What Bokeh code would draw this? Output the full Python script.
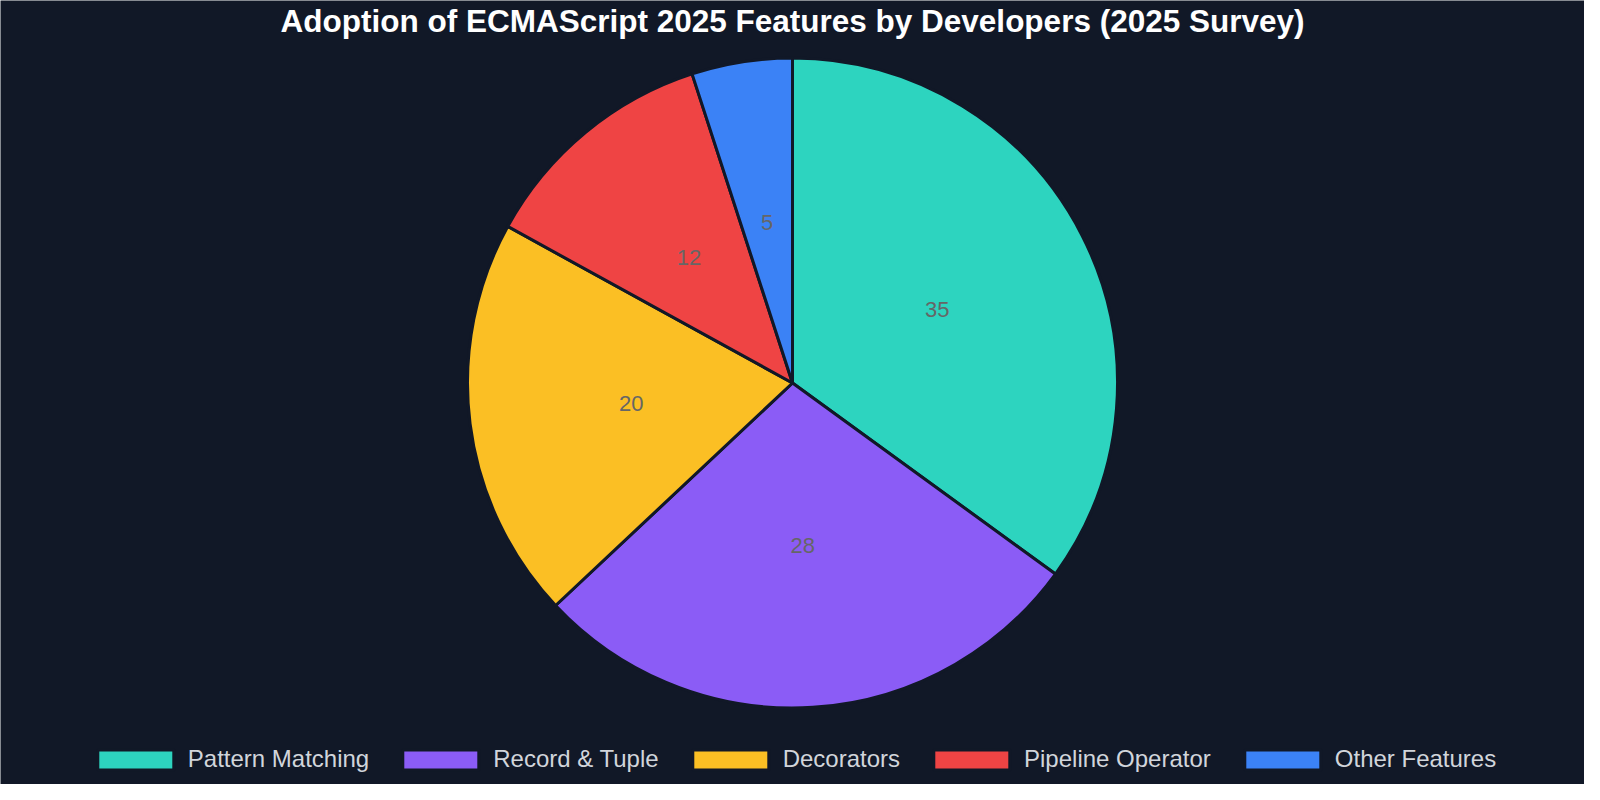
import numpy as np
from bokeh.plotting import figure
from bokeh.models import Range1d, Label, Legend, LegendItem, ColumnDataSource
from bokeh.embed import file_html
from bokeh.resources import INLINE
from bokeh.core.properties import value

# ---- data ----
categories = ["Pattern Matching", "Record & Tuple", "Decorators", "Pipeline Operator", "Other Features"]
shares = [35, 28, 20, 12, 5]
colors = ["#2dd4bf", "#8b5cf6", "#fbbf24", "#ef4444", "#3b82f6"]
title_text = "Adoption of ECMAScript 2025 Features by Developers (2025 Survey)"

W, H = 1584, 784
CX, CY, R = 792, 401.5, 325
FONT = "Liberation Sans"

vals = np.array(shares, dtype=float)
frac = vals / vals.sum()
cum = np.concatenate([[0], np.cumsum(frac)])
start = np.pi / 2 - 2 * np.pi * cum[:-1]
end = np.pi / 2 - 2 * np.pi * cum[1:]
mid = (start + end) / 2

src = ColumnDataSource(dict(
    cat=categories, val=shares, color=colors,
    start=start, end=end,
    lx=CX + 0.5 * R * np.cos(mid), ly=CY + 0.5 * R * np.sin(mid),
    lab=[str(v) for v in shares],
))

p = figure(width=W, height=H, output_backend="svg", toolbar_location=None,
           x_range=Range1d(0, W), y_range=Range1d(0, H),
           min_border=0, background_fill_color="#111827",
           border_fill_color="#111827", outline_line_color=None)
p.axis.visible = False
p.grid.visible = False

w = p.wedge(x=CX, y=CY, radius=R, start_angle="start", end_angle="end",
            direction="clock", fill_color="color", line_color="#111827",
            line_width=3, source=src)

p.text(x="lx", y="ly", text="lab", source=src, text_align="center",
       text_baseline="middle", text_font=value(FONT), text_font_size="22px",
       text_color="#666666")

p.add_layout(Label(x=W / 2, y=H - 20.5, x_units="data", y_units="data",
                   text=title_text, text_align="center", text_baseline="alphabetic",
                   text_font=FONT, text_font_size="31.5px",
                   text_font_style="bold", text_color="#ffffff"))

items = [LegendItem(label=c, renderers=[w], index=i) for i, c in enumerate(categories)]
legend = Legend(items=items, orientation="horizontal", location="bottom_center",
                glyph_width=95, glyph_height=25, label_standoff=5, spacing=24,
                label_text_font=FONT, label_text_font_size="24px",
                label_text_color="#d1d5db", label_height=20,
                background_fill_alpha=0, border_line_color=None,
                padding=0, margin=11)
p.add_layout(legend)

open("out.html", "w").write(file_html(p, INLINE))
